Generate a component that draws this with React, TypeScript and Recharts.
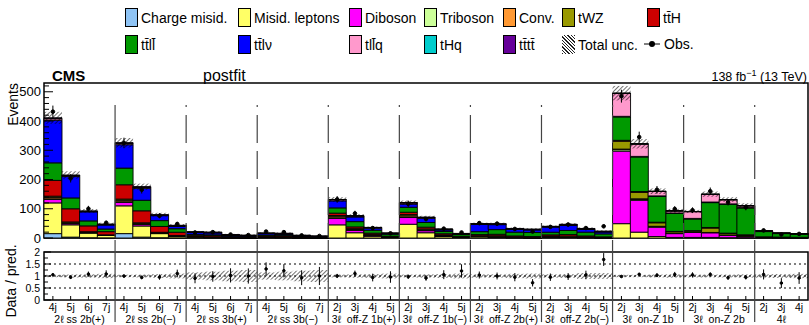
import React from 'react';
import {
  ComposedChart,
  Bar,
  Line,
  XAxis,
  YAxis,
  ErrorBar,
  ReferenceLine,
  ReferenceArea,
} from 'recharts';

// channel groups along x
const groupLabels = [
  '2ℓ ss 2b(+)', '2ℓ ss 2b(−)', '2ℓ ss 3b(+)', '2ℓ ss 3b(−)',
  '3ℓ  off-Z 1b(+)', '3ℓ  off-Z 1b(−)', '3ℓ  off-Z 2b(+)', '3ℓ  off-Z 2b(−)',
  '3ℓ  on-Z 1b', '3ℓ  on-Z 2b', '4ℓ',
];
const groupSizes = [4, 4, 4, 4, 4, 4, 4, 4, 4, 4, 3];
const jetLabels = [
  '4j', '5j', '6j', '7j', '4j', '5j', '6j', '7j', '4j', '5j', '6j', '7j', '4j', '5j', '6j', '7j',
  '2j', '3j', '4j', '5j', '2j', '3j', '4j', '5j', '2j', '3j', '4j', '5j', '2j', '3j', '4j', '5j',
  '2j', '3j', '4j', '5j', '2j', '3j', '4j', '5j', '2j', '3j', '4j',
];

// postfit yields per bin (stack order bottom -> top)
const chargeMisid = [15, 3, 1, 0.5, 15, 3, 1, 0.5, 1, 0.5, 0.2, 0.1, 1, 0.5, 0.2, 0.1, 0, 0, 0, 0, 0, 0, 0, 0, 0, 0, 0, 0, 0, 0, 0, 0, 0, 0, 0, 0, 0, 0, 0, 0, 0, 0, 0];
const misidLeptons = [105, 42, 16, 8, 95, 38, 14, 6, 3, 2, 1, 0.5, 2, 2, 1, 0.5, 45, 18, 6, 2, 47, 18, 5, 2, 4, 3, 1, 0.5, 3, 2, 1, 0.5, 49, 20, 5, 2, 2, 2, 1, 0.5, 0.5, 0.3, 0.2];
const diboson = [12, 4, 1, 0.5, 12, 5, 1, 0.5, 0.2, 0.2, 0.1, 0.1, 0.2, 0.2, 0.1, 0.1, 22, 8, 2, 0.5, 23, 7, 2, 0.5, 1, 1, 0.5, 0.2, 1, 1, 0.5, 0.2, 248, 109, 32, 13, 17, 16, 8, 4, 1, 1, 0.5];
const triboson = [2, 1, 0.5, 0.2, 2, 1, 0.5, 0.2, 0, 0, 0, 0, 0, 0, 0, 0, 2, 1, 0.5, 0.2, 2, 1, 0.5, 0.2, 0.2, 0.2, 0.1, 0.1, 0.2, 0.2, 0.1, 0.1, 5, 3, 2, 1, 0.5, 0.5, 0.3, 0.2, 0.5, 0.3, 0.2];
const conversions = [5, 2, 1, 0.5, 5, 2, 1, 0.5, 0.3, 0.2, 0.1, 0.1, 0.3, 0.2, 0.1, 0.1, 4, 2, 1, 0.3, 4, 2, 1, 0.3, 0.5, 0.5, 0.3, 0.2, 0.5, 0.5, 0.3, 0.2, 2, 2, 1, 0.5, 0.5, 0.5, 0.3, 0.2, 0, 0, 0];
const tWZ = [4, 3, 2, 1, 4, 3, 2, 1, 1, 1, 0.5, 0.5, 1, 1, 0.5, 0.5, 4, 3, 2, 1, 4, 3, 2, 1, 2, 3, 2, 1, 2, 3, 2, 1, 27, 22, 12, 5, 4, 15, 5, 4, 1, 1, 1];
const ttH = [54, 45, 20, 11, 49, 41, 20, 11, 4, 4, 2, 2, 3, 3, 2, 1, 8, 6, 5, 2, 8, 6, 4, 2, 4, 5, 3, 3, 4, 5, 3, 2, 3, 3, 2, 1, 1, 2, 2, 2, 1, 0.5, 0.5];
const ttll = [60, 37, 17, 9, 57, 36, 20, 12, 3, 3, 2, 2, 3, 3, 2, 1, 18, 18, 10, 7, 17, 16, 8, 6, 10, 16, 13, 14, 9, 14, 13, 10, 80, 118, 88, 62, 40, 85, 99, 92, 18, 12, 11];
const ttlv = [146, 73, 31, 14, 80, 41, 17, 9, 7, 7, 4, 3, 5, 4, 2, 2, 24, 16, 7, 2, 11, 14, 5, 2, 25, 17, 10, 9, 18, 18, 10, 7, 2, 2, 2, 1, 2, 2, 1, 1, 1, 0.5, 0.5];
const tllq = [5, 3, 1, 1, 4, 3, 1, 0.5, 0.3, 0.3, 0.2, 0.1, 0.3, 0.3, 0.2, 0.1, 4, 3, 2, 1, 4, 3, 2, 1, 1, 1, 0.5, 0.5, 1, 1, 0.5, 0.5, 78, 42, 15, 7, 23, 26, 14, 6, 1, 1, 1];
const tHq = [1, 0.5, 0.3, 0.2, 1, 0.5, 0.3, 0.2, 0.2, 0.2, 0.1, 0.1, 0.2, 0.2, 0.1, 0.1, 0.5, 0.5, 0.3, 0.2, 0.5, 0.5, 0.3, 0.2, 0.3, 0.3, 0.2, 0.2, 0.3, 0.3, 0.2, 0.2, 1, 1, 0.5, 0.3, 0.5, 0.5, 0.5, 0.5, 0.2, 0.2, 0.2];
const tttt = [2, 2, 2, 2, 2, 2, 2, 2, 1, 2, 1.5, 1.5, 1, 2, 1.5, 1.5, 0.3, 0.5, 0.5, 0.5, 0.3, 0.5, 0.5, 0.5, 1, 2, 2, 2, 1, 2, 2, 2, 0.2, 0.3, 0.3, 0.3, 0.3, 0.5, 0.5, 0.5, 0.2, 0.2, 0.2];

// observed events and relative total uncertainty
const observed = [432, 204, 100, 52, 325, 165, 76, 48, 19, 20, 12, 10, 22, 20, 9, 7, 132, 84, 34, 16, 117, 65, 32, 19, 51, 49, 31, 22, 38, 46, 34, 40, 485, 345, 165, 99, 95, 160, 122, 105, 26, 12, 14];
const relUnc = [0.05, 0.06, 0.07, 0.09, 0.05, 0.06, 0.08, 0.1, 0.15, 0.18, 0.22, 0.25, 0.15, 0.18, 0.22, 0.25, 0.06, 0.07, 0.08, 0.1, 0.06, 0.07, 0.08, 0.1, 0.07, 0.07, 0.09, 0.1, 0.07, 0.08, 0.12, 0.12, 0.05, 0.05, 0.06, 0.07, 0.06, 0.06, 0.06, 0.07, 0.07, 0.08, 0.09];

const yTicks = [0, 20, 40, 60, 80, 100, 120, 140, 160, 180, 200, 220, 240, 260, 280, 300, 320, 340, 360, 380, 400, 420, 440, 460, 480, 500, 520];
const ratioTicks = [0, 0.25, 0.5, 0.75, 1, 1.25, 1.5, 1.75, 2];

const processes = [
  { key: 'chargeMisid', name: 'Charge misid.', color: '#8fc4f5', values: chargeMisid },
  { key: 'misidLeptons', name: 'Misid. leptons', color: '#ffff66', values: misidLeptons },
  { key: 'diboson', name: 'Diboson', color: '#ff00ff', values: diboson },
  { key: 'triboson', name: 'Triboson', color: '#ccff99', values: triboson },
  { key: 'conversions', name: 'Conv.', color: '#ff9933', values: conversions },
  { key: 'tWZ', name: 'tWZ', color: '#999900', values: tWZ },
  { key: 'ttH', name: 'tt\u0304H', color: '#cc0000', values: ttH },
  { key: 'ttll', name: 'tt\u0304ll\u0304', color: '#009900', values: ttll },
  { key: 'ttlv', name: 'tt\u0304lν', color: '#0000ff', values: ttlv },
  { key: 'tllq', name: 'tll\u0304q', color: '#ff99cc', values: tllq },
  { key: 'tHq', name: 'tHq', color: '#00cccc', values: tHq },
  { key: 'tttt', name: 'tt\u0304tt\u0304', color: '#660099', values: tttt },
];

const W = 809;
const PLOT_LEFT = 44;
const PLOT_RIGHT = 808;
const NBINS = jetLabels.length;
const BW = (PLOT_RIGHT - PLOT_LEFT) / NBINS;
const FONT = '"Liberation Sans", Arial, Helvetica, sans-serif';

const groupStarts: number[] = [];
groupSizes.reduce((acc, n) => {
  groupStarts.push(acc);
  return acc + n;
}, 0);

const rows = jetLabels.map((_, i) => {
  const row: any = { key: String(i) };
  let total = 0;
  processes.forEach((p) => {
    row[p.key] = p.values[i];
    total += p.values[i];
  });
  const u = relUnc[i];
  const o = observed[i];
  row.total = total;
  row.obs = o;
  row.obsErr = Math.sqrt(o);
  row.unc = [total * (1 - u), total * (1 + u)];
  row.ratio = o / total;
  row.ratioErr = Math.sqrt(o) / total;
  row.band = [1 - u, 1 + u];
  return row;
});

const TopYTick = (props: any) => {
  const { y, payload } = props;
  const v = payload.value;
  const major = v % 100 === 0;
  return (
    <g>
      <line x1={PLOT_LEFT} x2={PLOT_LEFT + (major ? 9 : 5)} y1={y} y2={y} stroke="#000" />
      {major && (
        <text x={PLOT_LEFT - 3} y={y} dy="0.35em" textAnchor="end" fontSize={13} fontFamily={FONT} fill="#000">
          {v}
        </text>
      )}
    </g>
  );
};

const RatioYTick = (props: any) => {
  const { y, payload } = props;
  const v = payload.value;
  const major = v % 0.5 === 0;
  return (
    <g>
      <line x1={PLOT_LEFT} x2={PLOT_LEFT + (major ? 7 : 4)} y1={y} y2={y} stroke="#000" />
      {major && (
        <text x={PLOT_LEFT - 4} y={y} dy="0.35em" textAnchor="end" fontSize={10.5} fontFamily={FONT} fill="#000">
          {v}
        </text>
      )}
    </g>
  );
};

const RatioXTick = (props: any) => {
  const { x, y, payload } = props;
  const i = Number(payload.value);
  const gi = groupStarts.indexOf(i);
  return (
    <g fontFamily={FONT} fill="#000">
      <line x1={x} x2={x} y1={y} y2={y - 4} stroke="#000" />
      <text x={x} y={y + 11} textAnchor="middle" fontSize={10.5}>
        {jetLabels[i]}
      </text>
      {gi >= 0 && (
        <text
          x={x + ((groupSizes[gi] - 1) * BW) / 2}
          y={y + 23}
          textAnchor="middle"
          fontSize={10.5}
          style={{ whiteSpace: 'pre' }}
        >
          {groupLabels[gi]}
        </text>
      )}
    </g>
  );
};

const legendCols = [125, 238, 349, 424, 503, 562, 647];

const LegendBox = ({ color }: { color: string }) => (
  <div style={{ width: 13, height: 19, background: color, border: '1px solid #000', boxSizing: 'border-box' }} />
);

const Legend = () => {
  const row1 = processes.slice(0, 7);
  const row2 = processes.slice(7);
  const item = (left: number, top: number, icon: React.ReactNode, label: string, k: string) => (
    <div
      key={k}
      style={{ position: 'absolute', left, top, display: 'flex', alignItems: 'center', fontSize: 14, fontFamily: FONT, whiteSpace: 'nowrap' }}
    >
      {icon}
      <span style={{ marginLeft: 3 }}>{label}</span>
    </div>
  );
  return (
    <>
      {row1.map((p, i) => item(legendCols[i], 8, <LegendBox color={p.color} />, p.name, p.key))}
      {row2.map((p, i) => item(legendCols[i], 35, <LegendBox color={p.color} />, p.name, p.key))}
      {item(
        legendCols[5],
        35,
        <div
          style={{
            width: 13,
            height: 19,
            background: 'repeating-linear-gradient(45deg, #222 0 1px, #fff 1px 2.4px)',
          }}
        />,
        'Total unc.',
        'unc'
      )}
      {item(
        legendCols[6] - 4,
        35,
        <svg width={18} height={18}>
          <line x1={1} x2={17} y1={9} y2={9} stroke="#000" strokeWidth={1} />
          <circle cx={9} cy={9} r={3} fill="#000" />
        </svg>,
        'Obs.',
        'obs'
      )}
    </>
  );
};

export default function App() {
  return (
    <div style={{ position: 'absolute', left: 0, top: 0, width: W, height: 325, background: '#fff' }}>
      <Legend />

      <div style={{ position: 'absolute', left: 0, top: 0 }}>
        <ComposedChart
          width={W}
          height={252}
          data={rows}
          margin={{ top: 83, right: W - PLOT_RIGHT, left: 0, bottom: 14 }}
          barCategoryGap={0}
          barGap={0}
        >
          <defs>
            <pattern id="hatch" width="3" height="3" patternUnits="userSpaceOnUse" patternTransform="rotate(45)">
              <line x1="0" y1="0" x2="0" y2="3" stroke="#000" strokeWidth="1.1" />
            </pattern>
          </defs>
          <XAxis dataKey="key" hide />
          <XAxis dataKey="key" xAxisId="u" hide />
          <YAxis
            domain={[0, 530]}
            ticks={yTicks}
            interval={0}
            width={PLOT_LEFT}
            axisLine={false}
            tickLine={false}
            tickSize={0}
            tick={<TopYTick />}
          />
          {processes.map((p) => (
            <Bar
              key={p.key}
              dataKey={p.key}
              stackId="s"
              fill={p.color}
              stroke="#000"
              strokeWidth={0.9}
              isAnimationActive={false}
            />
          ))}
          <Bar dataKey="unc" xAxisId="u" fill="url(#hatch)" stroke="none" isAnimationActive={false} />
          {groupStarts.slice(1).map((s, k) => (
            <ReferenceLine
              key={s}
              segment={[
                { x: String(s), y: 455 },
                { x: String(s), y: 0 },
              ]}
              position="start"
              stroke="#444"
              strokeWidth={1.2}
              strokeDasharray={k === 0 ? undefined : '28 8'}
              strokeDashoffset={26}
            />
          ))}
          <Line
            dataKey="obs"
            stroke="none"
            dot={{ r: 1.8, fill: '#000', stroke: '#000' }}
            isAnimationActive={false}
          >
            <ErrorBar dataKey="obsErr" width={0} stroke="#000" strokeWidth={1} />
          </Line>
          <ReferenceArea y1={0} y2={530} fill="none" stroke="#000" strokeWidth={1.5} fillOpacity={0} />
        </ComposedChart>
      </div>

      <div style={{ position: 'absolute', left: 0, top: 240 }}>
        <ComposedChart
          width={W}
          height={85}
          data={rows}
          margin={{ top: 12, right: W - PLOT_RIGHT, left: 0, bottom: 0 }}
          barCategoryGap={0}
          barGap={0}
        >
          <defs>
            <pattern id="hatch2" width="3" height="3" patternUnits="userSpaceOnUse" patternTransform="rotate(45)">
              <line x1="0" y1="0" x2="0" y2="3" stroke="#000" strokeWidth="1.1" />
            </pattern>
          </defs>
          <XAxis
            dataKey="key"
            interval={0}
            height={25}
            axisLine={false}
            tickLine={false}
            tickSize={0}
            tickMargin={0}
            tick={<RatioXTick />}
          />
          <YAxis
            domain={[0, 2]}
            ticks={ratioTicks}
            interval={0}
            width={PLOT_LEFT}
            axisLine={false}
            tickLine={false}
            tickSize={0}
            tick={<RatioYTick />}
          />
          <Bar dataKey="band" fill="url(#hatch2)" stroke="none" isAnimationActive={false} />
          <ReferenceLine y={0.5} stroke="#000" strokeDasharray="2 3" />
          <ReferenceLine y={1} stroke="#000" strokeDasharray="2 3" />
          <ReferenceLine y={1.5} stroke="#000" strokeDasharray="2 3" />
          {groupStarts.slice(1).map((s) => (
            <ReferenceLine
              key={s}
              segment={[
                { x: String(s), y: 2.5 },
                { x: String(s), y: -0.92 },
              ]}
              position="start"
              ifOverflow="visible"
              stroke="#444"
              strokeWidth={1.2}
            />
          ))}
          <Line
            dataKey="ratio"
            stroke="none"
            dot={{ r: 1.3, fill: '#000', stroke: '#000' }}
            isAnimationActive={false}
          >
            <ErrorBar dataKey="ratioErr" width={0} stroke="#000" strokeWidth={1} />
          </Line>
          <ReferenceArea y1={0} y2={2} fill="none" stroke="#000" strokeWidth={1.5} fillOpacity={0} />
        </ComposedChart>
      </div>

      <svg width={W} height={325} style={{ position: 'absolute', left: 0, top: 0, pointerEvents: 'none' }} fontFamily={FONT}>
        <text x={52} y={81} fontSize={15} fontWeight="bold">CMS</text>
        <text x={203} y={81} fontSize={16}>postfit</text>
        <text x={807} y={81} fontSize={12.5} textAnchor="end">
          138 fb<tspan dy={-5} fontSize={9}>−1</tspan>
          <tspan dy={5}> (13 TeV)</tspan>
        </text>
        <text x={18} y={83} fontSize={14} textAnchor="end" transform="rotate(-90 18 83)">Events</text>
        <text x={16} y={281} fontSize={14} textAnchor="middle" transform="rotate(-90 16 281)">Data / pred.</text>
      </svg>
    </div>
  );
}
